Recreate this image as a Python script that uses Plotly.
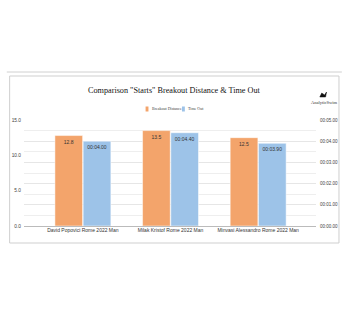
import plotly.graph_objects as go

swimmers = ["David Popovici Rome 2022 Man", "Milak Kristof Rome 2022 Man", "Minvasi Alessandro Rome 2022 Man"]
breakout_distance = [12.8, 13.5, 12.5]
time_out_sec = [4.00, 4.40, 3.90]
left_ticks = [0, 5, 10, 15]
right_ticks = [0, 1, 2, 3, 4, 5]
series_names = ["Breakout Distance", "Time Out"]

def fmt_time(s):
    m = int(s // 60)
    return f"{m:02d}:{s - 60*m:05.2f}"

ORANGE = "#F3A46B"
BLUE = "#9DC3E8"
SANS = "Liberation Sans Narrow, Liberation Sans, Arial"
SERIF = "Liberation Serif, Times New Roman, serif"

# plot area in pixels
L, R, T, B = 18, 323, 120, 226
W, H = 350, 318
def px(x): return (x - L) / (R - L)
def py(y): return (B - y) / (B - T)

fig = go.Figure()
fig.add_trace(go.Bar(
    x=swimmers, y=breakout_distance, name=series_names[0],
    marker=dict(color=ORANGE, line=dict(color="white", width=0.5)),
    text=[f"{v:.1f}" for v in breakout_distance], textposition="inside",
    insidetextanchor="end", textfont=dict(size=5, color="#333", family=SANS),
    offsetgroup="1", yaxis="y"))
fig.add_trace(go.Bar(
    x=swimmers, y=time_out_sec, name=series_names[1],
    marker=dict(color=BLUE, line=dict(color="white", width=0.5)),
    text=[fmt_time(v) for v in time_out_sec], textposition="inside",
    insidetextanchor="end", textfont=dict(size=5, color="#333", family=SANS),
    offsetgroup="2", yaxis="y2"))

fig.update_layout(
    width=W, height=H, autosize=False,
    margin=dict(l=L, r=W - R, t=T, b=H - B, pad=0),
    paper_bgcolor="white", plot_bgcolor="white",
    barmode="group", bargap=0.355, bargroupgap=0.02,
    font=dict(family=SANS, size=5, color="#333"),
    showlegend=False,
    xaxis=dict(range=[-0.672, 2.66], showgrid=False, showline=False, zeroline=False,
               ticks="", tickfont=dict(size=5, color="#333", family=SANS)),
    yaxis=dict(range=[0, 15], tickvals=left_ticks, ticktext=[f"{v:.1f}" for v in left_ticks],
               showgrid=False, zeroline=False, showline=False, ticks="",
               ticklabelstandoff=2,
               tickfont=dict(size=4.8, color="#444", family=SANS)),
    yaxis2=dict(range=[0, 5], overlaying="y", side="right", tickvals=right_ticks,
                ticktext=[fmt_time(v) for v in right_ticks],
                showgrid=True, gridcolor="#E6E6E6", gridwidth=0.6,
                minor=dict(dtick=0.5, showgrid=True, gridcolor="#EEEEEE", gridwidth=0.6),
                zeroline=True, zerolinecolor="#BBBBBB", zerolinewidth=0.8,
                showline=False, ticks="", ticklabelstandoff=3,
                tickfont=dict(size=4.5, color="#444", family=SANS)),
)

fig.add_annotation(text='Comparison "Starts" Breakout Distance & Time Out',
                   xref="paper", yref="paper", x=px(175), y=py(90),
                   xanchor="center", yanchor="middle", showarrow=False,
                   font=dict(family=SERIF, size=8.2, color="#111"))
fig.add_annotation(text="AnalyticSwim", xref="paper", yref="paper",
                   x=px(331), y=py(102), xanchor="center", yanchor="middle",
                   showarrow=False, font=dict(family=SERIF, size=4.5, color="#333"))

# custom compact legend
leg_y = 109
for (sx, color, name) in [(145, ORANGE, series_names[0]), (183, BLUE, series_names[1])]:
    fig.add_shape(type="rect", xref="paper", yref="paper",
                  x0=px(sx), x1=px(sx + 3), y0=py(leg_y + 2.5), y1=py(leg_y - 2.5),
                  fillcolor=color, line=dict(width=0))
    fig.add_annotation(text=name, xref="paper", yref="paper", x=px(sx + 4.5), y=py(leg_y),
                       xanchor="left", yanchor="middle", showarrow=False,
                       font=dict(family=SERIF, size=4, color="#444"))

# frame and top rule
fig.add_shape(type="line", xref="paper", yref="paper", x0=px(0), x1=px(350),
              y0=py(72), y1=py(72), line=dict(color="#D0D0D0", width=1))
fig.add_shape(type="rect", xref="paper", yref="paper", x0=px(3), x1=px(347),
              y0=py(76), y1=py(243), line=dict(color="#CFCFCF", width=1))
# small swimmer logo mark
fig.add_shape(type="path", xref="paper", yref="paper",
              path=f"M {px(327)},{py(97)} L {px(329)},{py(93)} L {px(332)},{py(95)} L {px(334)},{py(92)} L {px(333)},{py(97)} Z",
              fillcolor="#111", line=dict(color="#111", width=0.5))

fig.write_html("out.html")
